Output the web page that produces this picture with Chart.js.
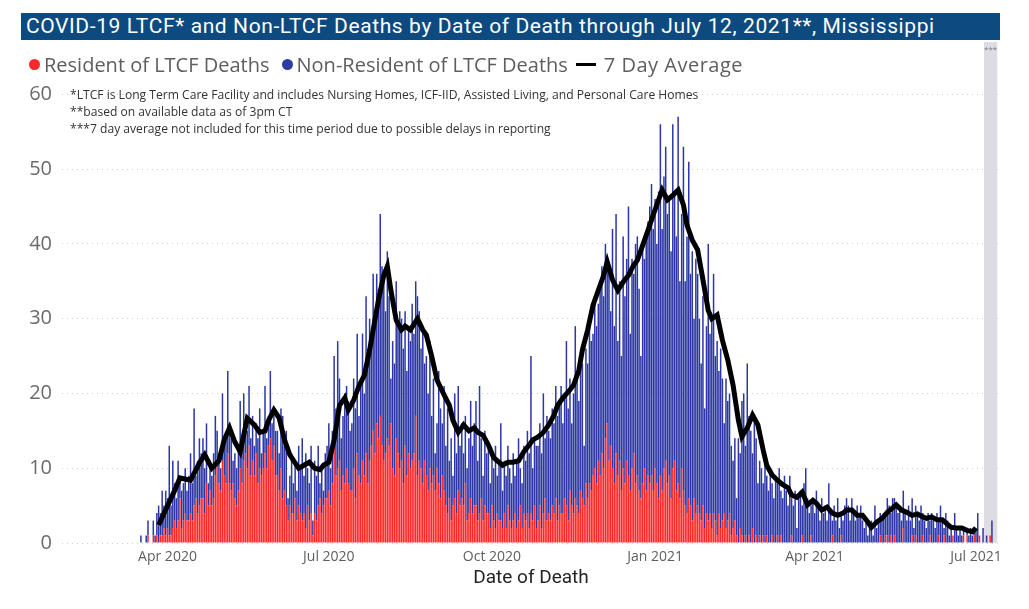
<!DOCTYPE html>
<html>
<head>
<meta charset="utf-8">
<script src="https://cdn.jsdelivr.net/npm/chart.js@4.4.1/dist/chart.umd.min.js"></script>
<style>
  body { margin: 0; background: #fff; }
  #wrap { position: relative; width: 1029px; height: 609px; overflow: hidden; }
  #c { position: absolute; left: 0; top: 0; }
  #title {
    position: absolute; left: 21px; top: 13px; width: 979px; height: 27px;
    background: #0c4a7f; color: #fff; font-family: Roboto, sans-serif; font-size: 21px;
    line-height: 27px; padding-left: 5px; box-sizing: border-box; letter-spacing: 0.6px; white-space: nowrap;
  }
  #legend {
    position: absolute; left: 29px; top: 50px; font-family: "Open Sans", sans-serif; font-size: 20px;
    color: #605e5c; white-space: nowrap; display: flex; align-items: center; height: 28px;
  }
  .dot { display: inline-block; width: 11px; height: 11px; border-radius: 50%; margin-right: 4px; }
  .lg { margin-right: 12px; }
  .ln { display: inline-block; width: 20px; height: 3px; background: #000; margin-right: 8px; }
  .note { position: absolute; left: 70px; font-family: "Open Sans", sans-serif; font-size: 12.1px; color: #333; white-space: nowrap; }
</style>
</head>
<body>
<div id="wrap">
  <canvas id="c" width="1029" height="609"></canvas>
  <div id="title">COVID-19 LTCF* and Non-LTCF Deaths by Date of Death through July 12, 2021**, Mississippi</div>
  <div id="legend">
    <span class="dot" style="background:#ff2828"></span><span class="lg">Resident of LTCF Deaths</span>
    <span class="dot" style="background:#2f3aa6"></span><span class="lg" style="margin-right:8px">Non-Resident of LTCF Deaths</span>
    <span class="ln"></span><span style="letter-spacing:0.5px">7 Day Average</span>
  </div>
  <div class="note" style="top:86px">*LTCF is Long Term Care Facility and includes Nursing Homes, ICF-IID, Assisted Living, and Personal Care Homes</div>
  <div class="note" style="top:103px">**based on available data as of 3pm CT</div>
  <div class="note" style="top:120px">***7 day average not included for this time period due to possible delays in reporting</div>
</div>
<script>
// day index 0 = 17 Mar 2020
const tickDays = [15, 106, 198, 290, 380, 471];
const tickLabels = ["Apr 2020", "Jul 2020", "Oct 2020", "Jan 2021", "Apr 2021", "Jul 2021"];
const yTicks = [0, 10, 20, 30, 40, 50, 60];

// deaths of LTCF residents per day
const resident = [
  0,0,0,0,1,0,0,1,0,1, 0,1,1,2,1,2,1,1,2,3, 2,3,6,2,3,4,3,3,4,3, 5,6,4,5,6,6,4,8,5,7,
  5,6,9,11,8,7,11,9,8,12, 8,7,8,6,5,7,10,8,11,12, 10,13,9,11,9,12,8,10,9,10, 12,10,13,14,11,13,9,9,7,10,
  6,7,5,3,5,4,4,6,3,5, 4,3,4,2,5,3,4,1,4,3, 5,6,4,5,6,6,7,5,8,15, 9,10,11,7,9,8,10,8,7,7,
  10,6,12,9,8,11,9,12,8,11, 13,15,12,16,14,17,13,11,12,14, 13,16,10,9,14,12,10,11,8,13, 9,12,10,11,12,17,9,11,10,8,
  11,9,7,10,8,9,7,10,8,6, 9,7,5,4,6,3,5,6,4,7, 5,6,5,8,3,4,6,4,5,5, 3,4,6,3,5,4,4,2,5,3,
  2,4,3,3,2,4,2,5,3,2, 3,4,2,3,5,2,4,3,4,2, 4,3,5,2,3,5,2,4,6,3, 4,3,5,4,6,3,5,4,4,6,
  5,3,7,5,4,6,5,4,7,6, 5,8,6,8,7,9,10,8,11,9, 12,10,14,16,11,13,10,8,12,9, 11,7,10,8,11,9,7,10,12,8,
  9,7,6,8,10,7,9,8,9,7, 10,8,6,9,7,10,11,8,9,6, 10,11,7,8,6,10,7,5,4,6, 5,3,6,4,5,4,3,5,2,4,
  3,4,2,4,3,1,4,2,3,4, 2,3,4,1,2,3,1,0,2,1, 0,1,0,1,0,2,0,1,0,1, 0,1,0,1,0,0,1,0,0,1,
  0,1,0,0,0,0,0,1,0,0, 0,0,0,1,0,0,0,0,1,0, 0,0,0,0,0,0,0,0,0,0, 1,0,0,0,0,1,0,0,0,0,
  0,0,0,0,0,0,0,0,0,0, 0,0,0,0,0,0,0,1,0,0, 1,1,0,1,0,1,0,0,0,0, 2,0,0,0,0,1,0,1,0,0,
  0,1,0,0,0,1,0,0,0,0, 1,0,0,1,0,0,0,0,1,0, 0,0,0,0,1,0,1,0,0,0, 1,0,0,1,0,0,0,0,0,1,0
];

// deaths of non-residents per day
const nonResident = [
  1,0,0,1,2,0,0,2,1,3, 5,3,6,3,6,4,12,4,9,5, 4,8,3,5,5,6,4,6,8,5, 13,3,7,9,6,8,6,8,3,4,
  4,6,8,4,4,3,9,4,6,11, 8,7,3,6,5,6,9,5,9,4, 5,8,5,6,4,4,6,8,3,5, 9,4,4,9,5,5,6,6,5,8,
  11,6,10,3,4,8,4,5,4,8, 6,11,5,10,5,5,9,2,7,6, 8,2,6,2,6,7,9,5,7,10, 9,17,11,7,8,12,11,11,8,9,
  12,12,16,8,13,17,11,21,16,19, 13,21,17,20,20,27,24,25,19,25, 20,6,17,15,21,17,21,19,18,18, 14,17,17,21,16,18,24,20,16,21,
  13,16,13,17,9,13,5,6,15,12, 7,14,8,14,5,11,4,14,8,14, 8,10,7,9,7,10,13,9,11,14, 8,17,8,6,10,8,9,6,7,7,
  11,5,8,13,5,7,7,8,7,6, 9,5,9,11,5,6,9,8,11,10, 21,7,9,11,10,11,10,16,8,14, 11,11,13,12,15,14,14,17,12,14,
  22,15,15,11,16,23,17,15,18,18, 8,18,18,22,20,19,23,21,21,25, 25,23,26,22,25,18,32,21,32,18, 24,18,31,25,27,36,21,28,24,32,
  32,27,19,32,28,34,34,37,39,35, 36,32,41,47,35,39,42,36,37,33, 46,36,34,49,29,34,46,30,37,45, 31,36,24,34,31,26,21,28,16,25,
  37,24,28,32,22,26,19,24,19,12, 20,16,16,12,9,11,5,14,10,18, 20,12,24,16,15,10,17,13,8,10, 10,7,11,8,7,10,7,6,9,7,
  10,6,6,9,7,5,9,5,5,7, 2,6,7,4,8,10,6,4,4,6, 4,7,5,3,6,4,5,3,8,4, 2,5,3,6,2,3,3,5,6,5,
  3,6,4,3,5,4,5,3,2,3, 1,2,3,1,5,2,3,3,3,4, 3,5,5,3,6,5,5,4,5,3, 5,4,3,5,3,5,2,4,4,3,
  5,3,3,2,4,2,4,3,2,4, 2,5,3,1,4,3,1,2,0,4, 2,1,2,1,1,0,1,1,2,1, 1,2,4,0,0,2,0,1,0,0,3
];

// 7 day average
const avgDays = [10,19,22,28,33,36,40,44,47,50,53,56,60,64,67,70,72,75,78,81,84,87,89,92,95,98,101,103,106,109,112,115,117,120,123,126,129,131,134,137,139,141,144,147,149,152,156,159,161,164,167,171,174,176,179,182,185,188,190,193,196,199,202,204,207,210,213,216,219,221,224,227,230,233,235,238,241,244,247,249,252,255,258,261,263,266,269,272,275,278,280,283,286,289,292,294,297,300,303,306,308,311,314,317,320,322,325,328,331,334,337,339,342,345,348,351,353,356,359,362,365,367,370,373,376,379,381,384,387,390,393,396,398,401,404,407,410,412,415,418,421,424,426,429,432,435,438,440,443,446,449,452,454,457,460,463,466,469,471];
const avgValues = [2.4,7.0,8.7,8.4,10.7,11.8,10.0,11.0,13.8,15.4,13.5,12.2,16.7,15.8,14.8,15.0,16.4,17.8,16.7,13.8,11.8,10.7,10.0,10.4,10.8,10.0,9.8,10.4,10.8,13.8,18.4,19.4,17.8,19.1,21.0,22.4,25.8,28.5,32.5,35.8,37.0,33.8,29.8,28.5,29.0,28.5,30.0,28.5,27.8,25.0,21.8,19.8,18.4,16.4,14.8,15.8,15.0,15.4,14.8,14.4,13.1,11.4,10.8,10.4,10.8,10.8,11.0,12.2,13.1,13.8,14.2,14.8,15.8,17.1,18.4,19.4,20.2,21.1,23.1,25.8,28.5,31.8,33.8,35.8,37.6,35.2,33.8,34.9,35.8,37.2,37.8,39.8,41.8,43.9,45.9,47.2,45.9,46.5,47.2,45.2,42.5,40.5,39.2,35.2,31.1,30.0,30.5,27.1,24.5,21.1,16.4,14.2,15.4,17.1,15.8,12.4,10.4,9.1,8.4,7.8,7.4,6.4,6.1,6.8,5.1,5.7,5.3,4.4,4.8,4.0,3.7,4.0,4.4,4.4,3.7,3.7,2.8,2.1,2.8,3.3,4.1,4.7,5.1,4.4,4.1,3.7,3.9,3.6,3.3,3.5,3.1,3.1,2.7,2.1,2.0,2.0,1.7,1.5,2.0];

// shaded period without average (day range)
const noAvgFrom = 475.5, noAvgTo = 483;

const shade = {
  id: "shade",
  beforeDatasetsDraw(chart) {
    const { ctx, chartArea, scales } = chart;
    const x1 = scales.x.getPixelForValue(noAvgFrom);
    const x2 = scales.x.getPixelForValue(noAvgTo);
    ctx.save();
    ctx.fillStyle = "#dcdce2";
    ctx.fillRect(x1, chartArea.top, x2 - x1, chartArea.bottom - chartArea.top);
    ctx.fillStyle = "#777";
    ctx.font = "8px 'Open Sans'";
    ctx.textAlign = "center";
    ctx.fillText("***", (x1 + x2) / 2, chartArea.top + 10);
    ctx.restore();
  }
};

new Chart(document.getElementById("c"), {
  type: "bar",
  data: {
    datasets: [
      {
        type: "line",
        label: "7 Day Average",
        data: avgDays.map((d, i) => ({ x: d, y: avgValues[i] })),
        borderColor: "#000",
        borderWidth: 5,
        pointRadius: 0,
        tension: 0,
        stack: "avg",
        order: 0
      },
      {
        label: "Resident of LTCF Deaths",
        data: resident.map((v, i) => ({ x: i, y: v })),
        backgroundColor: "#ff2828",
        stack: "deaths",
        order: 1,
        barPercentage: 0.85,
        categoryPercentage: 1
      },
      {
        label: "Non-Resident of LTCF Deaths",
        data: nonResident.map((v, i) => ({ x: i, y: v })),
        backgroundColor: "#2c37a5",
        stack: "deaths",
        order: 1,
        barPercentage: 0.85,
        categoryPercentage: 1
      }
    ]
  },
  plugins: [shade],
  options: {
    responsive: false,
    animation: false,
    layout: { padding: { top: 42, right: 29, left: 0, bottom: 0 } },
    plugins: { legend: { display: false }, tooltip: { enabled: false } },
    scales: {
      x: {
        type: "linear",
        stacked: true,
        offset: false,
        min: -44.5,
        max: 484.55,
        grid: { display: false, drawTicks: false },
        border: { display: false },
        afterFit(s) { s.height = 66; },
        afterBuildTicks(s) { s.ticks = tickDays.map(v => ({ value: v })); },
        ticks: {
          autoSkip: false,
          maxRotation: 0,
          padding: 6,
          color: "#605e5c",
          font: { family: "'Open Sans'", size: 14 },
          callback: v => tickLabels[tickDays.indexOf(v)]
        },
        title: {
          display: true,
          text: "Date of Death",
          color: "#252423",
          font: { family: "Roboto", size: 19 },
          padding: { top: 0, bottom: 19 }
        }
      },
      y: {
        stacked: true,
        min: 0,
        max: 67,
        afterFit(s) { s.width = 62; },
        afterBuildTicks(s) { s.ticks = yTicks.map(v => ({ value: v })); },
        grid: { color: "#cfcfcf", lineWidth: 1, drawTicks: false },
        border: { display: false, dash: [1, 4] },
        ticks: {
          padding: 10,
          color: "#6b6b6b",
          font: { family: "'Open Sans'", size: 20 }
        }
      }
    }
  }
});
</script>
</body>
</html>
